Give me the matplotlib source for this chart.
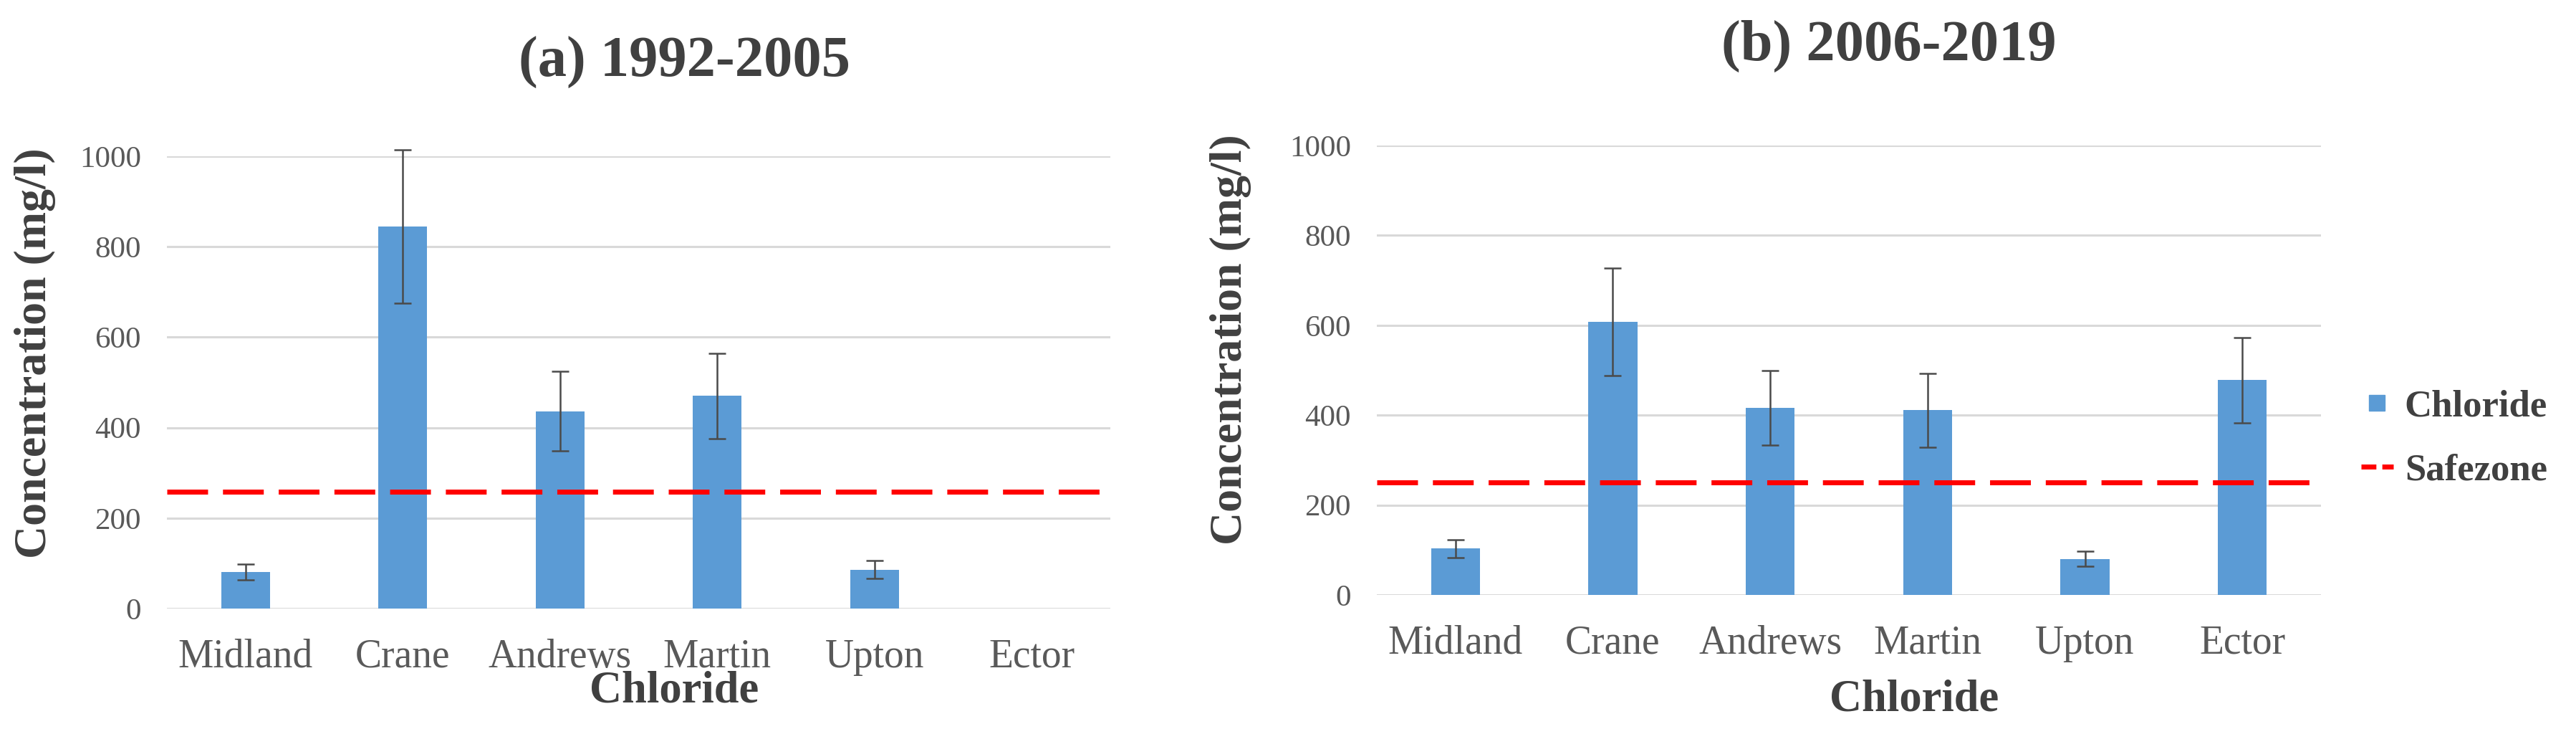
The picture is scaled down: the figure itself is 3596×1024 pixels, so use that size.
import numpy as np
import matplotlib
matplotlib.use("Agg")
import matplotlib.pyplot as plt
from matplotlib.lines import Line2D

# ---------------- data ----------------
categories = ["Midland", "Crane", "Andrews", "Martin", "Upton", "Ector"]
yticks = [0, 200, 400, 600, 800, 1000]

# (a) 1992-2005
chloride_a = [81, 845, 436, 470, 86, 0]
err_a = [17, 170, 88, 94, 20, np.nan]
safezone_a = 258

# (b) 2006-2019
chloride_b = [103, 608, 417, 411, 80, 478]
err_b = [20, 120, 83, 82, 17, 95]
safezone_b = 250

titles = ["(a) 1992-2005", "(b) 2006-2019"]

# ---------------- style ----------------
plt.rcParams["font.family"] = ["Liberation Serif", "DejaVu Serif"]
BAR = "#5b9bd5"
GRID = "#d9d9d9"
TXT = "#404040"
TICK = "#595959"
ERR = "#4a4a4a"

W, H = 3596, 1024
fig = plt.figure(figsize=(W / 100, H / 100), dpi=100)

def fx(px):
    return px / W

def fy(py):
    return 1 - py / H

# axes rects in pixels: left, top, right, bottom
rects = [(233, 218, 1550, 849), (1922, 203, 3240, 830)]
datasets = [(chloride_a, err_a, safezone_a), (chloride_b, err_b, safezone_b)]
title_pos = [(955, 87), (2637, 64)]
xlabel_pos = [(941, 965), (2672, 977)]
ylabel_pos = [(49, 493), (1718, 474)]

for i, ((l, t, r, b), (vals, errs, safe)) in enumerate(zip(rects, datasets)):
    ax = fig.add_axes([fx(l), fy(b), fx(r - l), (b - t) / H])
    x = np.arange(len(categories))
    ax.bar(x, vals, width=0.31, color=BAR, linewidth=0, zorder=2, label="Chloride")
    eb = ax.errorbar(x, vals, yerr=errs, fmt="none", ecolor=ERR, elinewidth=1.8,
                     capsize=8.5, capthick=1.8, zorder=3)
    for art in eb.lines[1]:
        art.set_clip_on(False)
    for art in eb.lines[2]:
        art.set_clip_on(False)
    ax.axhline(safe, color="#ff0000", lw=5, linestyle=(0, (8.2, 3.0)), zorder=4,
               label="Safezone")
    ax.set_xlim(-0.5, len(categories) - 0.5)
    ax.set_ylim(0, 1000)
    ax.set_yticks(yticks)
    ax.set_yticklabels([str(v) for v in yticks])
    ax.set_xticks(x)
    ax.set_xticklabels(categories)
    ax.yaxis.grid(True, color=GRID, lw=2.2, zorder=0)
    ax.set_axisbelow(True)
    for s in ax.spines.values():
        s.set_visible(False)
    ax.tick_params(axis="y", length=0, pad=26, labelsize=31, labelcolor=TICK)
    ax.tick_params(axis="x", length=0, pad=30, labelsize=40, labelcolor=TICK)

    # axis labels
    xl = ax.set_xlabel("Chloride", fontsize=45, fontweight="bold", color=TXT)
    xpx, ypx = xlabel_pos[i]
    ax.xaxis.set_label_coords((xpx - l) / (r - l), (b - ypx) / (b - t))
    xl.set_verticalalignment("center")
    yl = ax.set_ylabel("Concentration (mg/l)", fontsize=46, fontweight="bold", color=TXT)
    xpx, ypx = ylabel_pos[i]
    ax.yaxis.set_label_coords((xpx - l) / (r - l), (b - ypx) / (b - t))
    yl.set_verticalalignment("center")

    tx, ty = title_pos[i]
    fig.text(fx(tx), fy(ty), titles[i], fontsize=58, fontweight="bold", color=TXT,
             ha="center", va="center")

# legend (right panel)
handles = [
    Line2D([], [], marker="s", linestyle="none", color=BAR, markersize=16.5),
    Line2D([], [], color="#ff0000", lw=5, linestyle=(0, (3.0, 1.2))),
]
fig.legend(handles, ["Chloride", "Safezone"], loc="center left",
           bbox_to_anchor=(fx(3296), fy(612)), frameon=False,
           prop={"size": 38, "weight": "bold"}, labelcolor=TXT,
           handlelength=0.85, handletextpad=0.3, labelspacing=0.78,
           borderpad=0, borderaxespad=0)

fig.savefig("out.png", dpi=100, facecolor="white")
